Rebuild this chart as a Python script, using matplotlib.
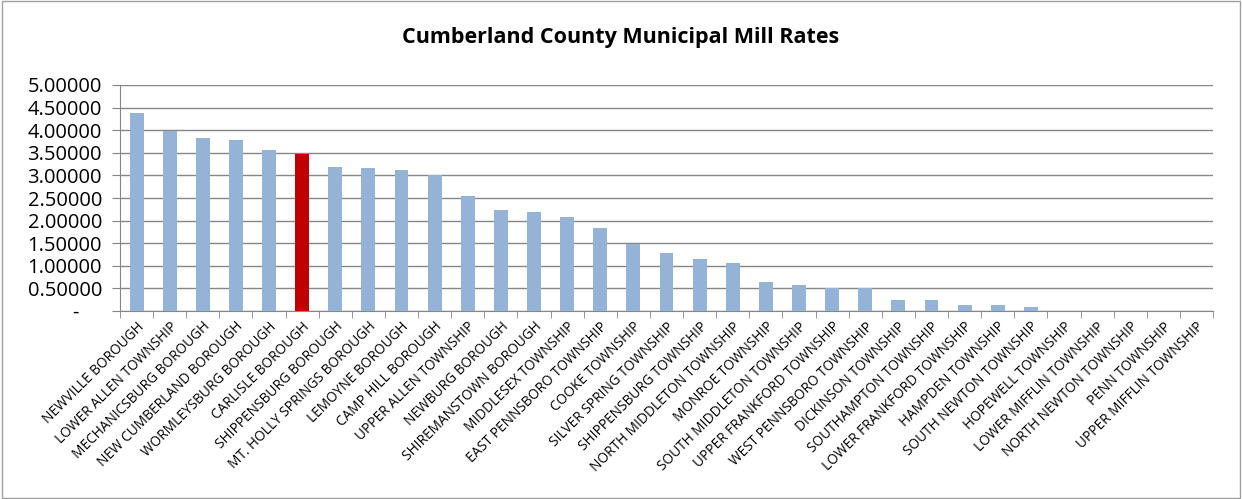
import matplotlib
matplotlib.use("Agg")
import matplotlib.pyplot as plt
from matplotlib.ticker import FuncFormatter, FixedLocator
from matplotlib.patches import Rectangle

plt.rcParams['font.family'] = ['Open Sans', 'DejaVu Sans']

municipalities = [
    "NEWVILLE BOROUGH", "LOWER ALLEN TOWNSHIP", "MECHANICSBURG BOROUGH",
    "NEW CUMBERLAND BOROUGH", "WORMLEYSBURG BOROUGH", "CARLISLE BOROUGH",
    "SHIPPENSBURG BOROUGH", "MT. HOLLY SPRINGS BOROUGH", "LEMOYNE BOROUGH",
    "CAMP HILL BOROUGH", "UPPER ALLEN TOWNSHIP", "NEWBURG BOROUGH",
    "SHIREMANSTOWN BOROUGH", "MIDDLESEX TOWNSHIP", "EAST PENNSBORO TOWNSHIP",
    "COOKE TOWNSHIP", "SILVER SPRING TOWNSHIP", "SHIPPENSBURG TOWNSHIP",
    "NORTH MIDDLETON TOWNSHIP", "MONROE TOWNSHIP", "SOUTH MIDDLETON TOWNSHIP",
    "UPPER FRANKFORD TOWNSHIP", "WEST PENNSBORO TOWNSHIP", "DICKINSON TOWNSHIP",
    "SOUTHAMPTON TOWNSHIP", "LOWER FRANKFORD TOWNSHIP", "HAMPDEN TOWNSHIP",
    "SOUTH NEWTON TOWNSHIP", "HOPEWELL TOWNSHIP", "LOWER MIFFLIN TOWNSHIP",
    "NORTH NEWTON TOWNSHIP", "PENN TOWNSHIP", "UPPER MIFFLIN TOWNSHIP",
]
mill_rates = [
    4.39, 3.99, 3.83, 3.79, 3.57, 3.48, 3.18, 3.17, 3.13, 3.00,
    2.54, 2.23, 2.18, 2.07, 1.83, 1.48, 1.29, 1.14, 1.07, 0.64,
    0.58, 0.50, 0.50, 0.24, 0.24, 0.14, 0.14, 0.09, 0.0, 0.0,
    0.0, 0.0, 0.0,
]
highlight = "CARLISLE BOROUGH"
y_ticks = [0, 0.5, 1.0, 1.5, 2.0, 2.5, 3.0, 3.5, 4.0, 4.5, 5.0]

base_color = "#95B3D7"
hi_color = "#C00000"
colors = [hi_color if m == highlight else base_color for m in municipalities]

fig = plt.figure(figsize=(12.42, 4.99), dpi=100)
fig.patches.append(Rectangle((0.002, 0.003), 0.996, 0.994, transform=fig.transFigure,
                             fill=False, edgecolor="#A0A0A0", linewidth=1.0))
ax = fig.add_axes([120/1242, 1-311/499, (1213-120)/1242, (311-85)/499])

n = len(municipalities)
x = list(range(n))
ax.bar(x, mill_rates, width=0.42, color=colors, zorder=3)

ax.set_xlim(-0.5, n - 0.5)
ax.set_ylim(0, 5.0)
ax.set_yticks(y_ticks)
ax.yaxis.set_major_formatter(FuncFormatter(lambda v, p: "-\u2007\u2007" if v == 0 else f"{v:.5f}"))
ax.tick_params(axis='y', labelsize=14.5, length=6, color="#868686", pad=7)
ax.grid(axis='y', color="#868686", linewidth=1.0, zorder=0)

ax.set_xticks(x)
ax.set_xticklabels(municipalities, rotation=45, ha='right', rotation_mode='anchor',
                   fontsize=9.8)
ax.xaxis.set_minor_locator(FixedLocator([i - 0.5 for i in range(n + 1)]))
ax.tick_params(axis='x', which='major', length=0, pad=6)
ax.tick_params(axis='x', which='minor', length=5, color="#868686")

for s in ['top', 'right']:
    ax.spines[s].set_visible(False)
for s in ['left', 'bottom']:
    ax.spines[s].set_color("#868686")

fig.text(0.5, 1-38/499, "Cumberland County Municipal Mill Rates", ha='center', va='center',
         fontsize=15.5, fontweight='bold')

fig.savefig("out.png", dpi=100)
